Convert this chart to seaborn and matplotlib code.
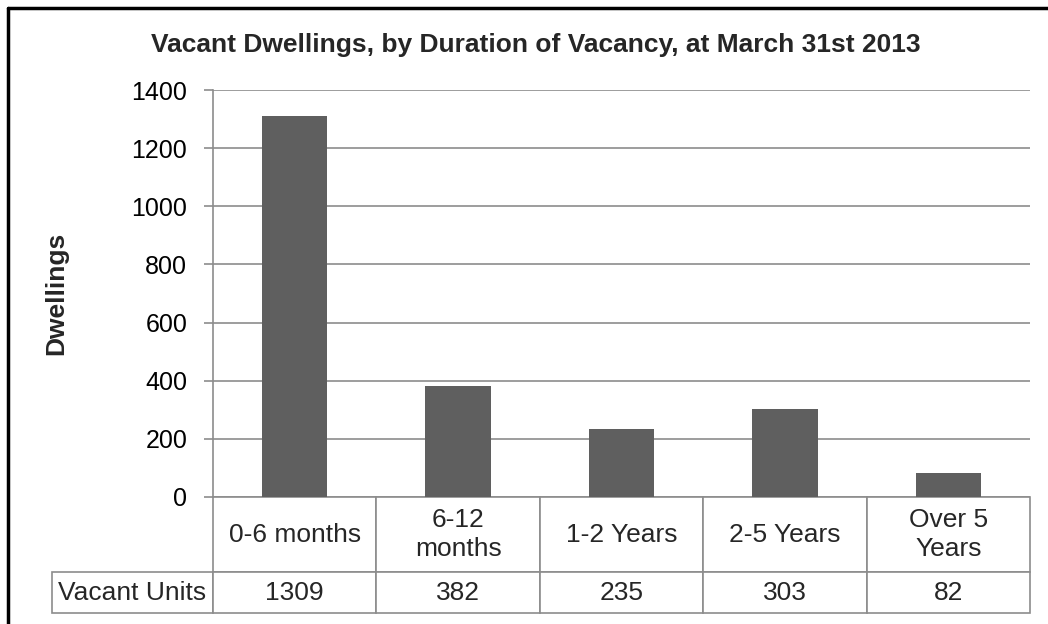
import matplotlib
matplotlib.use("Agg")
import matplotlib.pyplot as plt
from matplotlib.lines import Line2D
from matplotlib.table import Table
import seaborn as sns
import pandas as pd

categories = ['0-6 months', '6-12\nmonths', '1-2 Years', '2-5 Years', 'Over 5\nYears']
vacant_units = [1309, 382, 235, 303, 82]
y_ticks = [0, 200, 400, 600, 800, 1000, 1200, 1400]
row_label = 'Vacant Units'

GRID = '#8c8c8c'
BAR = '#5f5f5f'

sns.set_theme(style="white")
plt.rcParams['font.family'] = ['Liberation Sans', 'DejaVu Sans']

df = pd.DataFrame({'Duration': categories, 'Dwellings': vacant_units})

fig = plt.figure(figsize=(10.48, 6.24), dpi=100)
ax = fig.add_axes([213 / 1048, 1 - 497 / 624, 817 / 1048, 407 / 624])

sns.barplot(data=df, x='Duration', y='Dwellings', color=BAR, saturation=1,
            width=0.4, linewidth=0, ax=ax, zorder=3)

ax.set_xlim(-0.5, 4.5)
ax.set_ylim(0, 1400)
ax.set_yticks(y_ticks)
ax.set_yticklabels([str(t) for t in y_ticks], fontsize=18)
ax.set_xticks([])
ax.set_xlabel('')
ax.set_ylabel('')
ax.yaxis.grid(True, color=GRID, linewidth=1.2, zorder=0)
ax.tick_params(axis='y', direction='out', length=6.5, width=1.2, color=GRID,
               left=True, pad=12, labelcolor='black')
for s in ['top', 'right', 'bottom']:
    ax.spines[s].set_visible(False)
ax.spines['left'].set_color(GRID)
ax.spines['left'].set_linewidth(1.2)

# data table under the bars (bbox covers the data cells, row label sits left of it)
label_w = 161 / 817
head_h, row_h = 75, 41
tbl = Table(ax, bbox=[0, -116 / 407, 1, 116 / 407])
for j, (cat, val) in enumerate(zip(categories, vacant_units)):
    tbl.add_cell(0, j, width=0.2, height=head_h, text=cat, loc='center')
    tbl.add_cell(1, j, width=0.2, height=row_h, text=str(val), loc='center')
tbl.add_cell(1, -1, width=label_w, height=row_h, text=row_label, loc='center')
tbl.auto_set_font_size(False)
tbl.set_fontsize(19)
for cell in tbl.get_celld().values():
    cell.set_edgecolor(GRID)
    cell.set_linewidth(1.2)
    cell.get_text().set_linespacing(1.25)
ax.add_table(tbl)

fig.text(0.511, 1 - 45 / 624, 'Vacant Dwellings, by Duration of Vacancy, at March 31st 2013',
         ha='center', va='center', fontsize=19, fontweight='bold')
fig.text(56 / 1048, 1 - 293 / 624, 'Dwellings', rotation=90, ha='center',
         va='center', fontsize=19, fontweight='bold')

# outer frame (left and top only, the rest is cropped)
fig.add_artist(Line2D([8 / 1048, 8 / 1048], [0, 1 - 8 / 624], color='black', linewidth=2.5))
fig.add_artist(Line2D([8 / 1048, 1], [1 - 8 / 624, 1 - 8 / 624], color='black', linewidth=2.5))

fig.savefig('out.png', dpi=100)
